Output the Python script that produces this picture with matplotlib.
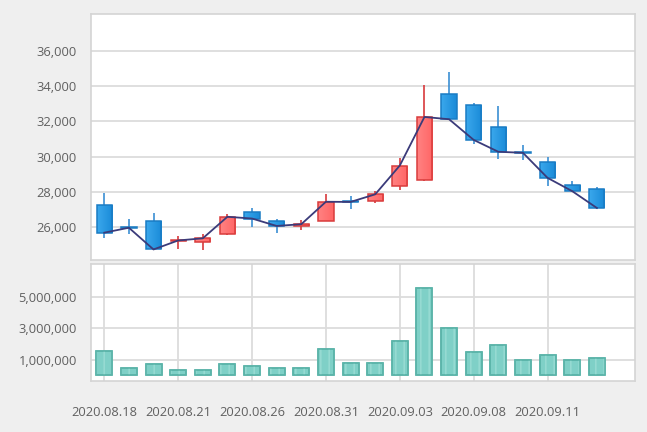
import matplotlib
matplotlib.use("Agg")
import matplotlib.pyplot as plt
from matplotlib.ticker import FuncFormatter
from matplotlib.colors import LinearSegmentedColormap
import numpy as np

dates = ['2020.08.18', '2020.08.19', '2020.08.20', '2020.08.21', '2020.08.24',
         '2020.08.25', '2020.08.26', '2020.08.27', '2020.08.28', '2020.08.31',
         '2020.09.01', '2020.09.02', '2020.09.03', '2020.09.04', '2020.09.07',
         '2020.09.08', '2020.09.09', '2020.09.10', '2020.09.11', '2020.09.14',
         '2020.09.15']
opens = [27250, 26000, 26380, 25220, 25200, 25650, 26850, 26380, 26080, 26350,
         27480, 27500, 28350, 28680, 33550, 32950, 31700, 30240, 29680, 28400, 28150]
highs = [27950, 26450, 26830, 25500, 25600, 26750, 27100, 26500, 26400, 27900,
         27780, 28080, 29900, 34050, 34800, 33060, 32850, 30660, 30000, 28600, 28270]
lows = [25400, 25620, 24700, 24750, 24700, 25550, 26000, 25700, 25850, 26350,
        27020, 27400, 28100, 28620, 32100, 30700, 29850, 29820, 28350, 28000, 27050]
closes = [25700, 25980, 24750, 25260, 25380, 26600, 26500, 26080, 26180, 27450,
          27440, 27870, 29500, 32250, 32120, 30950, 30280, 30220, 28800, 28050, 27100]
volumes = [1580000, 450000, 700000, 360000, 360000, 700000, 620000, 450000, 450000,
           1670000, 770000, 770000, 2180000, 5580000, 3030000, 1470000, 1920000,
           980000, 1300000, 980000, 1130000]
tick_idx = [0, 3, 6, 9, 12, 15, 18]
price_ticks = [26000, 28000, 30000, 32000, 34000, 36000]
volume_ticks = [1000000, 3000000, 5000000]

plt.rcParams['font.family'] = ['Open Sans', 'DejaVu Sans']
TEXT = '#606060'
GRID = '#dcdcdc'
BORDER = '#d4d4d4'
XLIM = (-0.55, 21.55)
PLIM = (24150, 38060)
VLIM = (-370000, 7120000)

fig = plt.figure(figsize=(6.47, 4.32), dpi=100, facecolor='#efefef')
ax1 = fig.add_axes([0.1402, 0.398, 0.8413, 0.5689])
ax2 = fig.add_axes([0.1402, 0.1181, 0.8413, 0.2701])

x = np.arange(len(dates))
o = np.array(opens); c = np.array(closes); h = np.array(highs); l = np.array(lows)
up = c >= o

for ax in (ax1, ax2):
    ax.set_facecolor('white')
    for s in ax.spines.values():
        s.set_color(BORDER)
        s.set_linewidth(1.2)
    ax.tick_params(length=0, colors=TEXT, labelsize=9.3)
    ax.set_axisbelow(True)

# Candles
ax1.vlines(x[up], l[up], h[up], color='#d8393c', lw=1.2, zorder=2)
ax1.vlines(x[~up], l[~up], h[~up], color='#3b8fd3', lw=1.2, zorder=2)
body_bottom = np.minimum(o, c)
body_h = np.abs(c - o)
W = 0.62
up_bars = ax1.bar(x[up], body_h[up], bottom=body_bottom[up], width=W,
                  color='#ff6f6f', edgecolor='none', lw=0, zorder=3)
dn_bars = ax1.bar(x[~up], body_h[~up], bottom=body_bottom[~up], width=W,
                  color='#2398e0', edgecolor='none', lw=0, zorder=3)
grad = np.linspace(0, 1, 32).reshape(1, -1)
cm_up = LinearSegmentedColormap.from_list('u', ['#ff8282', '#ff6666'])
cm_dn = LinearSegmentedColormap.from_list('d', ['#3aa8ec', '#1a8ad8'])
for bars, cm in ((up_bars, cm_up), (dn_bars, cm_dn)):
    for p in bars.patches:
        x0, y0 = p.get_x(), p.get_y()
        im = ax1.imshow(grad, extent=[x0, x0 + p.get_width(), y0, y0 + p.get_height()],
                        aspect='auto', cmap=cm, zorder=3.2, interpolation='bilinear')
        im.set_clip_path(p)
ax1.bar(x[up], body_h[up], bottom=body_bottom[up], width=W,
        color='none', edgecolor='#d83c3c', lw=1.1, zorder=3.5)
ax1.bar(x[~up], body_h[~up], bottom=body_bottom[~up], width=W,
        color='none', edgecolor='#1a7cc4', lw=1.1, zorder=3.5)
ax1.plot(x, c, color='#3b3b7a', lw=1.3, zorder=4)

ax1.set_xlim(*XLIM)
ax1.set_ylim(*PLIM)
ax1.set_yticks(price_ticks)
ax1.yaxis.set_major_formatter(FuncFormatter(lambda v, p: f'{int(v):,}'))
ax1.yaxis.grid(True, color=GRID, lw=1.3)
ax1.set_xticks([])
ax1.tick_params(axis='y', pad=10)

# Volume
ax2.bar(x, volumes, width=0.65, color='#7fd0c7', edgecolor='#5bb4a9', lw=1.1, zorder=3)
ax2.bar(x, volumes, width=0.65, color='none', edgecolor='#9adcd4', lw=0, hatch='||', zorder=3)
ax2.bar(x, volumes, width=0.65, color='none', edgecolor='#5bb4a9', lw=1.1, zorder=4)
ax2.set_xlim(*XLIM)
ax2.set_ylim(*VLIM)
ax2.set_yticks(volume_ticks)
ax2.yaxis.set_major_formatter(FuncFormatter(lambda v, p: f'{int(v):,}'))
ax2.set_xticks(tick_idx)
ax2.set_xticklabels([dates[i] for i in tick_idx])
ax2.grid(True, color=GRID, lw=1.3)
ax2.tick_params(axis='y', pad=10)
ax2.tick_params(axis='x', pad=18)

fig.savefig('out.png', dpi=100, facecolor=fig.get_facecolor())
